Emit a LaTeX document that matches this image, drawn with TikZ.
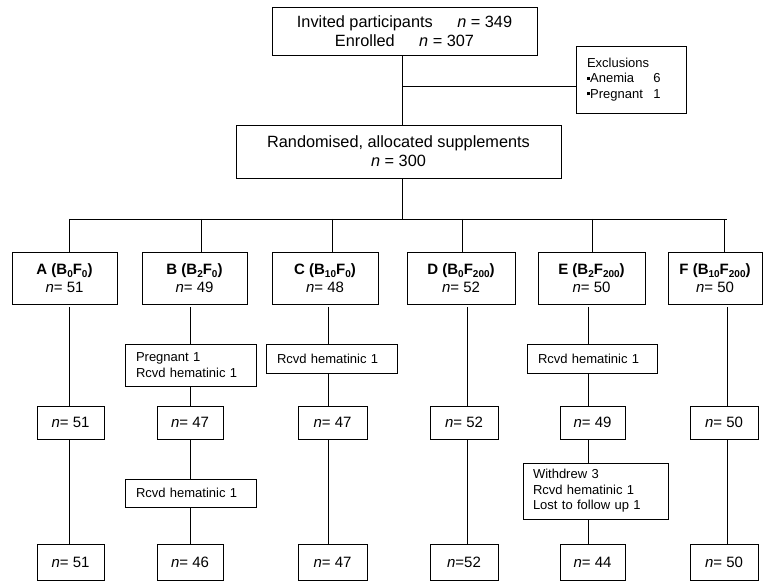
\documentclass[tikz,border=0pt]{standalone}
\usepackage{fontspec}
\setmainfont{Liberation Sans}
\newcommand\sbs[1]{\raisebox{-0.22em}{\fontsize{10}{10}\selectfont #1}}
\newcommand\mysq{\rule[0.22em]{0.24em}{0.24em}}
\begin{document}
\begin{tikzpicture}[x=1pt,y=-1pt, line width=0.8pt,
  box/.style={draw, inner sep=0pt, align=center, font=\fontsize{15}{18}\selectfont},
  bigbox/.style={draw, inner sep=0pt, align=center, font=\fontsize{16.3}{19}\selectfont},
  note/.style={draw, inner xsep=11pt, inner ysep=0pt, align=left, font=\fontsize{13}{15.5}\selectfont},
  nbox/.style={draw, inner sep=0pt, align=center, font=\fontsize{15}{18}\selectfont}]
\path[use as bounding box] (0,0) rectangle (763,585);

% top part
\node[bigbox, minimum width=265pt, minimum height=48pt] (top) at (404.5,31)
  {Invited participants\quad\enspace \textit{n} = 349\\ Enrolled\quad\enspace \textit{n} = 307};
\node[note, text width=88pt, minimum height=67pt] (excl) at (631,79.5)
  {Exclusions\\ \makebox[5.1em][l]{\mysq Anemia}6\\ \makebox[5.1em][l]{\mysq Pregnant}1};
\node[bigbox, minimum width=325pt, minimum height=53pt] (rand) at (398.5,151.5)
  {Randomised, allocated supplements\\ \textit{n} = 300};

\coordinate (c0) at (402,0);
\coordinate (ex) at (402,86);
\coordinate (bus) at (402,219);
\coordinate (busL) at (69,219);
\coordinate (busR) at (727,219);
\draw (top.south -| c0) -- (rand.north -| c0);
\draw (ex) -- (ex -| excl.west);
\draw (rand.south -| c0) -- (bus);
\draw (busL) -- (busR);

% group boxes
\node[box, minimum width=105pt, minimum height=52pt] (gA) at (64.5,278) {\textbf{A (B\sbs{0}F\sbs{0})}\\ \textit{n}= 51};
\node[box, minimum width=105pt, minimum height=52pt] (gB) at (194.5,278) {\textbf{B (B\sbs{2}F\sbs{0})}\\ \textit{n}= 49};
\node[box, minimum width=106pt, minimum height=52pt] (gC) at (325,278) {\textbf{C (B\sbs{10}F\sbs{0})}\\ \textit{n}= 48};
\node[box, minimum width=108pt, minimum height=52pt] (gD) at (461,278) {\textbf{D (B\sbs{0}F\sbs{200})}\\ \textit{n}= 52};
\node[box, minimum width=107pt, minimum height=52pt] (gE) at (591.5,278) {\textbf{E (B\sbs{2}F\sbs{200})}\\ \textit{n}= 50};
\node[box, minimum width=94pt, minimum height=52pt] (gF) at (715,278) {\textbf{F (B\sbs{10}F\sbs{200})}\\ \textit{n}= 50};

\coordinate (tA) at (69,219);
\coordinate (tB) at (201,219);
\coordinate (tC) at (332,219);
\coordinate (tD) at (462,219);
\coordinate (tE) at (592,219);
\coordinate (tF) at (724,219);
\foreach \t/\g in {tA/gA,tB/gB,tC/gC,tD/gD,tE/gE,tF/gF}
  \draw (\t) -- (\t |- \g.north);

% intermediate boxes
\node[note, text width=109pt, minimum height=42pt] (pB) at (190.5,365) {Pregnant 1\\ Rcvd hematinic 1};
\node[note, text width=109pt, minimum height=29pt] (pC) at (331.5,358.5) {Rcvd hematinic 1};
\node[note, text width=108pt, minimum height=29pt] (pE) at (592,358.5) {Rcvd hematinic 1};
\node[note, text width=109pt, minimum height=28pt] (qB) at (190.5,493) {Rcvd hematinic 1};
\node[note, inner xsep=10pt, text width=125pt, minimum height=56pt] (qE) at (595.5,491) {Withdrew 3\\ Rcvd hematinic 1\\ Lost to follow up 1};

% n boxes row 3
\node[nbox, minimum width=67pt, minimum height=33pt] (nA1) at (70.5,422.5) {\textit{n}= 51};
\node[nbox, minimum width=66pt, minimum height=33pt] (nB1) at (190,422.5) {\textit{n}= 47};
\node[nbox, minimum width=69pt, minimum height=33pt] (nC1) at (332.5,422.5) {\textit{n}= 47};
\node[nbox, minimum width=68pt, minimum height=33pt] (nD1) at (464,422.5) {\textit{n}= 52};
\node[nbox, minimum width=65pt, minimum height=33pt] (nE1) at (592.5,422.5) {\textit{n}= 49};
\node[nbox, minimum width=68pt, minimum height=33pt] (nF1) at (724,422.5) {\textit{n}= 50};
% n boxes row 5
\node[nbox, minimum width=67pt, minimum height=36pt] (nA2) at (70.5,562) {\textit{n}= 51};
\node[nbox, minimum width=66pt, minimum height=36pt] (nB2) at (190,562) {\textit{n}= 46};
\node[nbox, minimum width=69pt, minimum height=36pt] (nC2) at (332.5,562) {\textit{n}= 47};
\node[nbox, minimum width=68pt, minimum height=36pt] (nD2) at (464,562) {\textit{n}=52};
\node[nbox, minimum width=65pt, minimum height=36pt] (nE2) at (592.5,562) {\textit{n}= 44};
\node[nbox, minimum width=68pt, minimum height=36pt] (nF2) at (724,562) {\textit{n}= 50};

% column lines
\coordinate (lA) at (69,0);
\coordinate (lB) at (190,0);
\coordinate (lC) at (328,0);
\coordinate (lD) at (467,0);
\coordinate (lE) at (588,0);
\coordinate (lF) at (727,0);

% A
\draw ([yshift=-3pt]gA.south -| lA) -- (nA1.north -| lA);
\draw (nA1.south -| lA) -- (nA2.north -| lA);
% B
\draw ([yshift=-3pt]gB.south -| lB) -- (pB.north -| lB);
\draw (pB.south -| lB) -- (nB1.north -| lB);
\draw (nB1.south -| lB) -- (qB.north -| lB);
\draw (qB.south -| lB) -- (nB2.north -| lB);
% C
\draw ([yshift=-3pt]gC.south -| lC) -- (pC.north -| lC);
\draw (pC.south -| lC) -- (nC1.north -| lC);
\draw (nC1.south -| lC) -- (nC2.north -| lC);
% D
\draw ([yshift=-3pt]gD.south -| lD) -- (nD1.north -| lD);
\draw (nD1.south -| lD) -- (nD2.north -| lD);
% E
\draw ([yshift=-3pt]gE.south -| lE) -- (pE.north -| lE);
\draw (pE.south -| lE) -- (nE1.north -| lE);
\draw (nE1.south -| lE) -- (qE.north -| lE);
\draw (qE.south -| lE) -- (nE2.north -| lE);
% F
\draw ([yshift=-3pt]gF.south -| lF) -- (nF1.north -| lF);
\draw (nF1.south -| lF) -- (nF2.north -| lF);
\end{tikzpicture}
\end{document}
